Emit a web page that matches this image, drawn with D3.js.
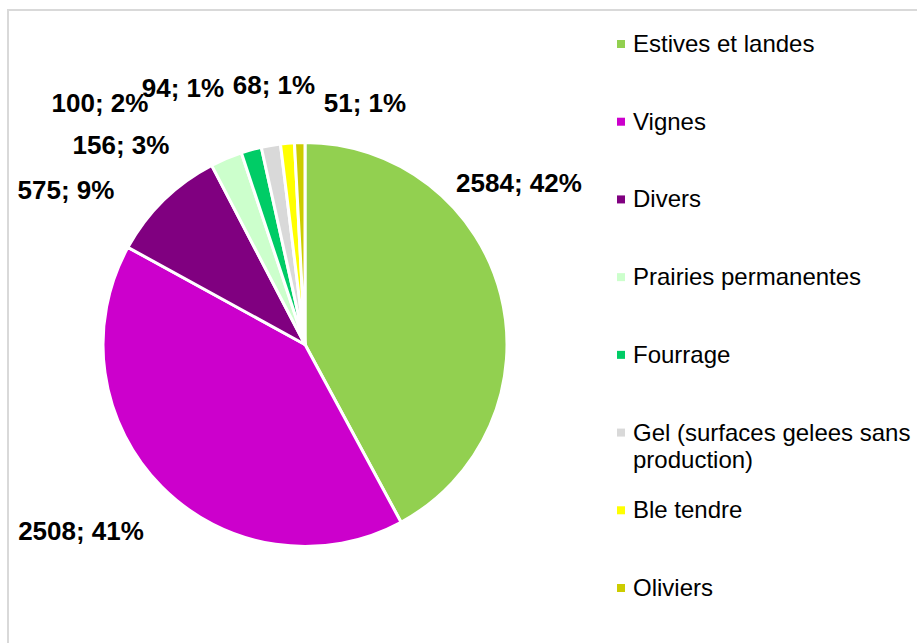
<!DOCTYPE html>
<html>
<head>
<meta charset="utf-8">
<script src="https://cdn.jsdelivr.net/npm/d3@7"></script>
<style>
  body { margin: 0; background: #fff; }
  text { font-family: "Liberation Sans", Arial, sans-serif; }
</style>
</head>
<body>
<div id="chart"></div>
<script>
const categories = ["Estives et landes", "Vignes", "Divers", "Prairies permanentes",
  "Fourrage", "Gel (surfaces gelees sans production)", "Ble tendre", "Oliviers"];
const values = [2584, 2508, 575, 156, 100, 94, 68, 51];
const percentLabels = ["42%", "41%", "9%", "3%", "2%", "1%", "1%", "1%"];
const colors = ["#92d050", "#cc00cc", "#800080", "#ccffcc", "#00cc66", "#d9d9d9", "#ffff00", "#cccc00"];

// where Excel put each data label, relative to the pie centre (x centre, baseline)
const labelOffsets = [[214, -153], [-224, 195], [-239, -146], [-184, -191],
  [-205, -233], [-122, -248], [-31, -251], [60, -233]];

const width = 917, height = 643;
const cx = 305, cy = 344.5, radius = 202;

const svg = d3.select('#chart')
  .append('svg')
  .attr('width', width)
  .attr('height', height);

// chart area frame
svg.append('rect')
  .attr('x', 8)
  .attr('y', 10)
  .attr('width', width + 10)
  .attr('height', height + 10)
  .attr('fill', 'none')
  .attr('stroke', '#d9d9d9')
  .attr('stroke-width', 2);

const pie = d3.pie().sort(null).value(d => d);
const arcs = pie(values);
const arc = d3.arc().innerRadius(0).outerRadius(radius);

const g = svg.append('g').attr('transform', `translate(${cx},${cy})`);

g.selectAll('path')
  .data(arcs)
  .enter()
  .append('path')
  .attr('d', arc)
  .attr('fill', (d, i) => colors[i])
  .attr('stroke', '#fff')
  .attr('stroke-width', 3)
  .attr('stroke-linejoin', 'round');

g.selectAll('text.lbl')
  .data(arcs)
  .enter()
  .append('text')
  .attr('class', 'lbl')
  .attr('x', (d, i) => labelOffsets[i][0])
  .attr('y', (d, i) => labelOffsets[i][1])
  .attr('text-anchor', 'middle')
  .attr('font-size', 26)
  .attr('font-weight', 'bold')
  .attr('fill', '#000')
  .text((d, i) => d.data + '; ' + percentLabels[i]);

// legend
const legendY = d3.scalePoint().domain(categories).range([52, 596]);
const legend = svg.selectAll('g.leg')
  .data(categories)
  .enter()
  .append('g')
  .attr('class', 'leg')
  .attr('transform', d => `translate(617,${legendY(d)})`);

legend.append('rect')
  .attr('x', 0)
  .attr('y', -12)
  .attr('width', 8)
  .attr('height', 8)
  .attr('fill', (d, i) => colors[i]);

legend.append('text')
  .attr('x', 16)
  .attr('y', 0)
  .attr('font-size', 24)
  .attr('fill', '#000')
  .each(function (d) {
    const t = d3.select(this);
    if (d.startsWith('Gel')) {
      t.append('tspan').attr('x', 16).attr('dy', 0).text('Gel (surfaces gelees sans');
      t.append('tspan').attr('x', 16).attr('dy', 27.5).text('production)');
    } else {
      t.text(d);
    }
  });
</script>
</body>
</html>
